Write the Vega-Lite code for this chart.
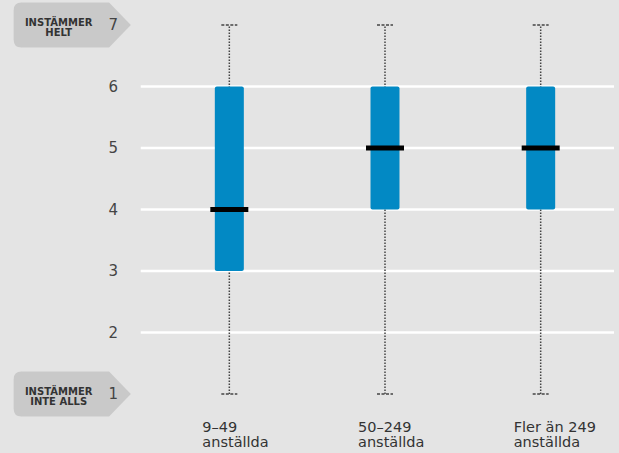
{
  "$schema": "https://vega.github.io/schema/vega-lite/v6.json",
  "width": 619,
  "height": 453,
  "autosize": {"type": "fit", "contains": "padding"},
  "padding": 0,
  "background": "#e4e4e4",
  "config": {"view": {"stroke": null}},
  "datasets": {
    "boxes": [
      {"group": "9–49\nanställda", "i": 1, "min": 1, "q1": 3, "median": 4, "q3": 6, "max": 7},
      {"group": "50–249\nanställda", "i": 2, "min": 1, "q1": 4, "median": 5, "q3": 6, "max": 7},
      {"group": "Fler än 249\nanställda", "i": 3, "min": 1, "q1": 4, "median": 5, "q3": 6, "max": 7}
    ],
    "grid": [{"v": 2}, {"v": 3}, {"v": 4}, {"v": 5}, {"v": 6}],
    "ticks": [{"v": 1}, {"v": 2}, {"v": 3}, {"v": 4}, {"v": 5}, {"v": 6}, {"v": 7}],
    "ends": [
      {"v": 7, "label": "INSTÄMMER\nHELT"},
      {"v": 1, "label": "INSTÄMMER\nINTE ALLS"}
    ]
  },
  "layer": [
    {
      "data": {"name": "grid"},
      "mark": {"type": "rule", "color": "#ffffff", "strokeWidth": 2.5},
      "encoding": {
        "x": {"datum": 0.431, "type": "quantitative", "scale": {"domain": [-0.441, 3.471], "nice": false, "zero": false}, "axis": null},
        "x2": {"datum": 3.471},
        "y": {"field": "v", "type": "quantitative", "scale": {"domain": [0.0407, 7.407], "nice": false, "zero": false}, "axis": null}
      }
    },
    {
      "data": {"name": "ends"},
      "mark": {"type": "point", "filled": true, "opacity": 1, "color": "#c9c9c9", "size": 14400, "shape": "M -0.87 -0.375 L 0.59 -0.375 L 0.953 0 L 0.59 0.375 L -0.87 0.375 Q -1 0.375 -1 0.245 L -1 -0.245 Q -1 -0.375 -0.87 -0.375 Z"},
      "encoding": {
        "x": {"datum": 0, "type": "quantitative"},
        "y": {"field": "v", "type": "quantitative"}
      }
    },
    {
      "data": {"name": "boxes"},
      "mark": {"type": "rule", "color": "#444444", "strokeWidth": 1.5, "strokeDash": [1.5, 1.5]},
      "encoding": {
        "x": {"field": "i", "type": "quantitative"},
        "y": {"field": "min", "type": "quantitative"},
        "y2": {"field": "max"}
      }
    },
    {
      "data": {"name": "boxes"},
      "mark": {"type": "point", "filled": false, "opacity": 1, "color": "#444444", "strokeWidth": 1.5, "strokeDash": [3, 1.5], "size": 256, "shape": "M -1 0 L 1 0"},
      "encoding": {
        "x": {"field": "i", "type": "quantitative"},
        "y": {"field": "max", "type": "quantitative"}
      }
    },
    {
      "data": {"name": "boxes"},
      "mark": {"type": "point", "filled": false, "opacity": 1, "color": "#444444", "strokeWidth": 1.5, "strokeDash": [3, 1.5], "size": 256, "shape": "M -1 0 L 1 0"},
      "encoding": {
        "x": {"field": "i", "type": "quantitative"},
        "y": {"field": "min", "type": "quantitative"}
      }
    },
    {
      "data": {"name": "boxes"},
      "mark": {"type": "bar", "size": 29, "color": "#0289c4", "cornerRadius": 2},
      "encoding": {
        "x": {"field": "i", "type": "quantitative"},
        "y": {"field": "q1", "type": "quantitative"},
        "y2": {"field": "q3"}
      }
    },
    {
      "data": {"name": "boxes"},
      "mark": {"type": "tick", "orient": "horizontal", "size": 38, "thickness": 5, "color": "#000000", "opacity": 1},
      "encoding": {
        "x": {"field": "i", "type": "quantitative"},
        "y": {"field": "median", "type": "quantitative"}
      }
    },
    {
      "data": {"name": "ticks"},
      "mark": {"type": "text", "align": "center", "baseline": "middle", "fontSize": 15, "font": "DejaVu Sans", "color": "#444444"},
      "encoding": {
        "x": {"datum": 0.254, "type": "quantitative"},
        "y": {"field": "v", "type": "quantitative"},
        "text": {"field": "v", "type": "quantitative"}
      }
    },
    {
      "data": {"name": "ends"},
      "mark": {"type": "text", "align": "center", "baseline": "alphabetic", "fontSize": 10, "fontWeight": "bold", "font": "DejaVu Sans", "color": "#333333", "lineBreak": "\n", "lineHeight": 10, "dx": -15, "dy": 1},
      "encoding": {
        "x": {"datum": 0, "type": "quantitative"},
        "y": {"field": "v", "type": "quantitative"},
        "text": {"field": "label", "type": "nominal"}
      }
    },
    {
      "data": {"name": "boxes"},
      "mark": {"type": "text", "align": "left", "baseline": "alphabetic", "fontSize": 14.5, "font": "DejaVu Sans", "color": "#333333", "lineBreak": "\n", "lineHeight": 15.5, "dx": -27},
      "encoding": {
        "x": {"field": "i", "type": "quantitative"},
        "y": {"datum": 0.387, "type": "quantitative"},
        "text": {"field": "group", "type": "nominal"}
      }
    }
  ]
}
